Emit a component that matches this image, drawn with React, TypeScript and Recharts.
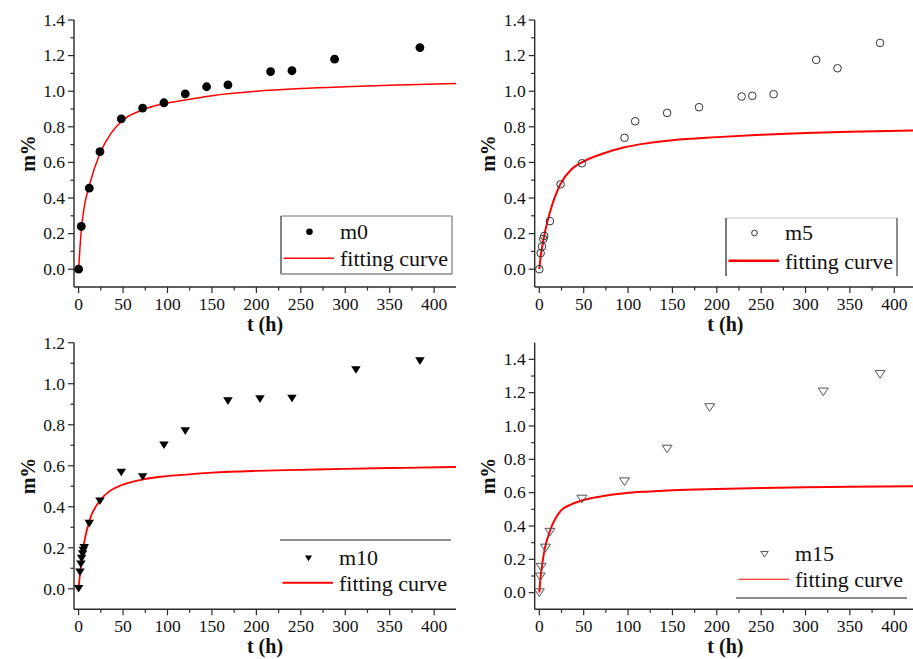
import { ComposedChart, Line, Scatter, XAxis, YAxis, Legend } from 'recharts';

// measured points (t in hours, mass gain in %)
const hoursM0 = [0, 3, 12, 24, 48, 72, 96, 120, 144, 168, 216, 240, 288, 384];
const valuesM0 = [0, 0.24, 0.455, 0.66, 0.845, 0.905, 0.935, 0.985, 1.025, 1.035, 1.11, 1.115, 1.18, 1.245];

const hoursM5 = [0, 1.5, 3, 4.5, 5.5, 12, 24, 48, 96, 108, 144, 180, 228, 240, 264, 312, 336, 384];
const valuesM5 = [0, 0.09, 0.127, 0.17, 0.187, 0.27, 0.477, 0.595, 0.738, 0.831, 0.878, 0.91, 0.97, 0.974, 0.983, 1.176, 1.129, 1.271];

const hoursM10 = [0, 1.5, 2.6, 3.4, 4.5, 5.2, 6.3, 12, 24, 48, 72, 96, 120, 168, 204, 240, 312, 384];
const valuesM10 = [0, 0.08, 0.12, 0.147, 0.17, 0.187, 0.2, 0.318, 0.427, 0.567, 0.545, 0.7, 0.769, 0.915, 0.925, 0.928, 1.067, 1.11];

const hoursM15 = [0, 1, 2, 7, 12, 48, 96, 144, 192, 320, 384];
const valuesM15 = [0, 0.095, 0.153, 0.268, 0.363, 0.562, 0.666, 0.862, 1.111, 1.205, 1.31];

// fitting curves
const fitHours = [0, 1, 3, 6, 12, 24, 36, 48, 72, 96, 125, 150, 200, 250, 300, 350, 425];
const fitM0 = [0, 0.08, 0.22, 0.34, 0.47, 0.65, 0.76, 0.83, 0.895, 0.93, 0.955, 0.975, 1.0, 1.015, 1.025, 1.033, 1.043];
const fitM5 = [0, 0.05, 0.12, 0.2, 0.32, 0.48, 0.56, 0.6, 0.65, 0.685, 0.71, 0.725, 0.742, 0.755, 0.765, 0.772, 0.779];
const fitM10 = [0, 0.05, 0.13, 0.22, 0.33, 0.43, 0.48, 0.505, 0.533, 0.548, 0.558, 0.566, 0.575, 0.58, 0.585, 0.589, 0.594];
const fitM15 = [0, 0.07, 0.16, 0.26, 0.37, 0.49, 0.53, 0.553, 0.58, 0.597, 0.607, 0.614, 0.622, 0.628, 0.632, 0.635, 0.638];

// tick labels (major every 50 / 0.2, minor in between)
const xTicks = [0, 25, 50, 75, 100, 125, 150, 175, 200, 225, 250, 275, 300, 325, 350, 375, 400];
const yTicks14 = [0, 0.1, 0.2, 0.3, 0.4, 0.5, 0.6, 0.7, 0.8, 0.9, 1.0, 1.1, 1.2, 1.3, 1.4];
const yTicks12 = [0, 0.1, 0.2, 0.3, 0.4, 0.5, 0.6, 0.7, 0.8, 0.9, 1.0, 1.1, 1.2];

const FONT = 'Liberation Serif, DejaVu Serif, serif';
const AXIS = '#2a2a2a';
const RED = '#ff0000';

const rows = (xs: number[], ys: number[]) => xs.map((t, i) => ({ t, v: ys[i] }));

const txt = (size: number, bold = false) => ({
  fontFamily: FONT,
  fontSize: size,
  fontWeight: bold ? 700 : 400,
  fill: '#111',
});

function XTick(props: any) {
  const { x, y, payload } = props;
  const major = payload.value % 50 === 0;
  return (
    <g>
      <line x1={x} x2={x} y1={y} y2={y + (major ? 6 : 3.5)} stroke={AXIS} strokeWidth={1.2} />
      {major && (
        <text x={x} y={y + 22.5} textAnchor="middle" style={txt(17.5)}>
          {payload.value}
        </text>
      )}
    </g>
  );
}

function YTick(props: any) {
  const { x, y, payload } = props;
  const major = Math.round(payload.value * 10) % 2 === 0;
  return (
    <g>
      <line x1={x} x2={x - (major ? 6 : 3.5)} y1={y} y2={y} stroke={AXIS} strokeWidth={1.2} />
      {major && (
        <text x={x - 9} y={y + 5.8} textAnchor="end" style={txt(17.5)}>
          {payload.value.toFixed(1)}
        </text>
      )}
    </g>
  );
}

function Marker({ kind, cx, cy, s = 1 }: { kind: string; cx: number; cy: number; s?: number }) {
  if (kind === 'dot') return <circle cx={cx} cy={cy} r={4.4 * s} fill="#000" />;
  if (kind === 'ring') return <circle cx={cx} cy={cy} r={3.8 * s} fill="none" stroke="#333" strokeWidth={1} />;
  const w = (kind === 'tri' ? 9.5 : 10) * s;
  const h = 7.6 * s;
  const pts = `${cx - w / 2},${cy - h / 2} ${cx + w / 2},${cy - h / 2} ${cx},${cy + h / 2}`;
  if (kind === 'tri') return <polygon points={pts} fill="#000" />;
  return <polygon points={pts} fill="none" stroke="#555" strokeWidth={1} />;
}

type LegendCfg = {
  left: number;
  top: number;
  sy: number;
  ly: number;
  lineW: number;
  borders: { t?: string; l?: string; r?: string; b?: string };
};

function LegendBox({ cfg, kind, name }: { cfg: LegendCfg; kind: string; name: string }) {
  const W = 171;
  const H = 58;
  const b = cfg.borders;
  return (
    <svg width={W + 4} height={H + 4} style={{ position: 'absolute', left: 0, top: 0, overflow: 'visible' }}>
      {b.t && <line x1={0} x2={W} y1={0} y2={0} stroke={b.t} strokeWidth={1.2} />}
      {b.l && <line x1={0} x2={0} y1={0} y2={H} stroke={b.l} strokeWidth={1.2} />}
      {b.r && <line x1={W} x2={W} y1={0} y2={H} stroke={b.r} strokeWidth={1.2} />}
      {b.b && <line x1={0} x2={W} y1={H} y2={H} stroke={b.b} strokeWidth={1.5} />}
      <Marker kind={kind} cx={28.5} cy={cfg.sy} s={0.75} />
      <text x={59} y={cfg.sy + 6.8} style={txt(22)}>{name}</text>
      <line x1={2.5} x2={53} y1={cfg.ly} y2={cfg.ly} stroke={RED} strokeWidth={cfg.lineW} />
      <text x={59} y={cfg.ly + 7.8} style={txt(22)}>fitting curve</text>
    </svg>
  );
}

type PanelProps = {
  left: number;
  top: number;
  width: number;
  height: number;
  plot: { l: number; t: number; r: number; b: number };
  xDomain: [number, number];
  yDomain: [number, number];
  yTicks: number[];
  points: { t: number; v: number }[];
  fit: { t: number; v: number }[];
  kind: string;
  name: string;
  fitWidth: number;
  legend: LegendCfg;
};

function Panel(p: PanelProps) {
  const margin = {
    top: p.plot.t - p.top,
    left: 0,
    right: p.left + p.width - p.plot.r,
    bottom: 0,
  };
  const yAxisW = p.plot.l - p.left;
  const xAxisH = p.top + p.height - p.plot.b;
  return (
    <div style={{ position: 'absolute', left: p.left, top: p.top }}>
      <ComposedChart width={p.width} height={p.height} margin={margin}>
        <XAxis
          dataKey="t"
          type="number"
          domain={p.xDomain}
          allowDataOverflow
          ticks={xTicks}
          interval={0}
          tickSize={0}
          tickMargin={0}
          tickLine={false}
          tick={<XTick />}
          height={xAxisH}
          axisLine={{ stroke: AXIS, strokeWidth: 1.4 }}
          label={(lp: any) => {
            const vb = lp.viewBox;
            return (
              <text x={vb.x + vb.width / 2} y={vb.y + 44} textAnchor="middle" style={txt(20, true)}>
                t (h)
              </text>
            );
          }}
        />
        <XAxis xAxisId="top" orientation="top" type="number" domain={p.xDomain} height={0} tick={false} tickLine={false} axisLine={{ stroke: AXIS, strokeWidth: 1.4 }} />
        <YAxis
          dataKey="v"
          type="number"
          domain={p.yDomain}
          allowDataOverflow
          ticks={p.yTicks}
          interval={0}
          tickSize={0}
          tickMargin={0}
          tickLine={false}
          tick={<YTick />}
          width={yAxisW}
          axisLine={{ stroke: AXIS, strokeWidth: 1.4 }}
          label={(lp: any) => {
            const vb = lp.viewBox;
            const cx = vb.x + 35;
            const cy = vb.y + vb.height / 2;
            return (
              <text x={cx} y={cy} transform={`rotate(-90, ${cx}, ${cy})`} textAnchor="middle" style={txt(20, true)}>
                m%
              </text>
            );
          }}
        />
        <YAxis yAxisId="right" orientation="right" type="number" domain={p.yDomain} width={0} tick={false} tickLine={false} axisLine={{ stroke: AXIS, strokeWidth: 1.4 }} />
        <Line
          data={p.fit}
          dataKey="v"
          name="fitting curve"
          type="monotone"
          stroke={RED}
          strokeWidth={p.fitWidth}
          dot={false}
          activeDot={false}
          isAnimationActive={false}
        />
        <Scatter
          data={p.points}
          name={p.name}
          isAnimationActive={false}
          shape={(sp: any) => <Marker kind={p.kind} cx={sp.cx} cy={sp.cy} />}
        />
        <Legend
          wrapperStyle={{ left: p.legend.left, top: p.legend.top, bottom: 'auto', right: 'auto', width: 0, height: 0 }}
          content={() => <LegendBox cfg={p.legend} kind={p.kind} name={p.name} />}
        />
      </ComposedChart>
    </div>
  );
}

export default function App() {
  const xDomain: [number, number] = [-5.2, 424.6];
  return (
    <div style={{ position: 'absolute', left: 0, top: 0, width: 913, height: 659, overflow: 'hidden', background: '#fff' }}>
      <Panel
        left={0}
        top={0}
        width={460}
        height={340}
        plot={{ l: 74, t: 20, r: 456, b: 287 }}
        xDomain={xDomain}
        yDomain={[-0.1, 1.4]}
        yTicks={yTicks14}
        points={rows(hoursM0, valuesM0)}
        fit={rows(fitHours, fitM0)}
        kind="dot"
        name="m0"
        fitWidth={1.5}
        legend={{ left: 280.5, top: 216, sy: 15.7, ly: 42.3, lineW: 1.6, borders: { t: '#777', l: '#333', r: '#777', b: '#888' } }}
      />
      <Panel
        left={460}
        top={0}
        width={460}
        height={340}
        plot={{ l: 534.7, t: 20, r: 916.1, b: 287 }}
        xDomain={xDomain}
        yDomain={[-0.1, 1.4]}
        yTicks={yTicks14}
        points={rows(hoursM5, valuesM5)}
        fit={rows(fitHours, fitM5)}
        kind="ring"
        name="m5"
        fitWidth={2}
        legend={{ left: 266, top: 218.3, sy: 15, ly: 42.7, lineW: 2.4, borders: { t: '#c8c8c8', l: '#222', r: '#444' } }}
      />
      <Panel
        left={0}
        top={320}
        width={460}
        height={339}
        plot={{ l: 74, t: 342.7, r: 456, b: 609.3 }}
        xDomain={xDomain}
        yDomain={[-0.1, 1.2]}
        yTicks={yTicks12}
        points={rows(hoursM10, valuesM10)}
        fit={rows(fitHours, fitM10)}
        kind="tri"
        name="m10"
        fitWidth={1.8}
        legend={{ left: 280, top: 220, sy: 18.3, ly: 42.7, lineW: 2, borders: { t: '#222' } }}
      />
      <Panel
        left={460}
        top={320}
        width={460}
        height={339}
        plot={{ l: 534.7, t: 342.7, r: 916.1, b: 609.3 }}
        xDomain={xDomain}
        yDomain={[-0.1, 1.5]}
        yTicks={yTicks14}
        points={rows(hoursM15, valuesM15)}
        fit={rows(fitHours, fitM15)}
        kind="tri-open"
        name="m15"
        fitWidth={2}
        legend={{ left: 276, top: 220, sy: 14.3, ly: 39.3, lineW: 1.1, borders: { b: '#666' } }}
      />
    </div>
  );
}
